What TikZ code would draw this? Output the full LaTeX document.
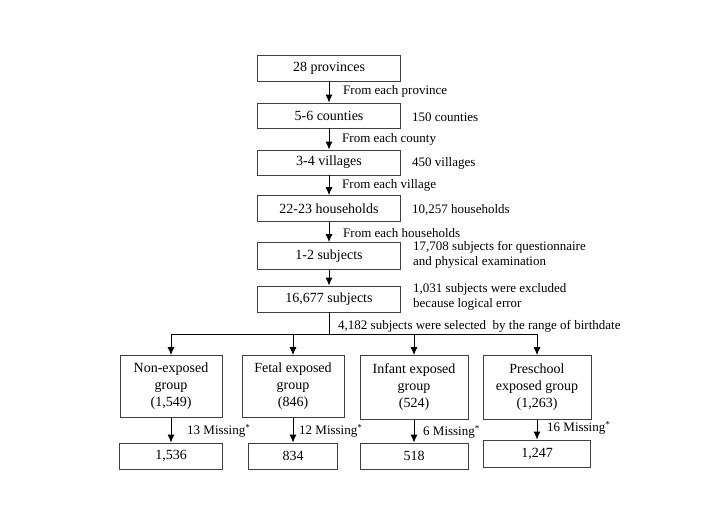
\documentclass[tikz,border=0pt]{standalone}
\usepackage{fontspec}
\setmainfont{Liberation Serif}
\usetikzlibrary{arrows.meta}

\begin{document}
\begin{tikzpicture}[x=1pt,y=-1pt,
    caja/.style={draw=black!75, line width=0.8pt, minimum width=143pt,
      minimum height=26pt, inner sep=0pt, align=center,
      font=\fontsize{14}{17}\selectfont},
    etiq/.style={anchor=west, inner sep=0pt, align=left,
      font=\fontsize{13}{14.5}\selectfont},
    flecha/.style={line width=0.9pt, -{Latex[length=8pt,width=7pt]}}]

    % marco de la figura
    \useasboundingbox (0,0) rectangle (711,529);

    % --- cajas del muestreo ---
    \node[caja] (prov) at (329,68.5) {28 provinces};
    \node[caja, minimum height=25pt] (cnty) at (329,115.5) {5-6 counties};
    \node[caja, minimum height=25pt] (vill) at (329,162.5) {3-4 villages};
    \node[caja] (hh) at (329,208.5) {22-23 households};
    \node[caja, minimum height=27pt] (subj) at (329,256) {1-2 subjects};
    \node[caja] (total) at (329,299) {16,677 subjects};

    % flechas entre cajas
    \draw[flecha] (prov) -- (cnty);
    \draw[flecha] (cnty) -- (vill);
    \draw[flecha] (vill) -- (hh);
    \draw[flecha] (hh) -- (subj);
    \draw[flecha] (subj) -- (total);

    % etiquetas de las flechas
    \node[etiq] (fprov) at (343,91) {From each province};
    \node[etiq] (fcnty) at (342,139) {From each county};
    \node[etiq] (fvill) at (342,185) {From each village};
    \node[etiq] (fhh) at (343,233) {From each households};

    % etiquetas a la derecha
    \node[etiq] (ncnty) at (412,117) {150 counties};
    \node[etiq] (nvill) at (412,163) {450 villages};
    \node[etiq] (nhh) at (412,210) {10,257 households};
    \node[etiq] (nsubj) at (413,255) {17,708 subjects for questionnaire\\and physical examination};
    \node[etiq] (ntotal) at (413,297) {1,031 subjects were excluded\\because logical error};

    % --- grupos ---
    \node[caja, minimum width=102pt, minimum height=62pt] (nonexp) at (171,386.5) {Non-exposed\\group\\(1,549)};
    \node[caja, minimum width=102pt, minimum height=62pt] (fetal) at (293,386.5) {Fetal exposed\\group\\(846)};
    \node[caja, minimum width=108pt, minimum height=64pt] (infant) at (414,387.5) {Infant exposed\\group\\(524)};
    \node[caja, minimum width=108pt, minimum height=64pt] (presch) at (537,387.5) {Preschool\\exposed group\\(1,263)};

    % reparto hacia los grupos
    \coordinate (split) at (total.south |- 0,334);
    \draw[line width=0.9pt] (total.south) -- (split);
    \draw[flecha] (split) -| (nonexp.north);
    \draw[flecha] (split) -| (fetal.north);
    \draw[flecha] (split) -| (infant.north);
    \draw[flecha] (split) -| (presch.north);
    \node[etiq] (nsplit) at (338,326) {4,182 subjects were selected~ by the range of birthdate};

    % --- resultados finales ---
    \node[caja, minimum width=103pt] (rnonexp) at (171,456) {1,536};
    \node[caja, minimum width=89pt] (rfetal) at (293,456) {834};
    \node[caja, minimum width=108pt] (rinfant) at (414,456) {518};
    \node[caja, minimum width=107pt, minimum height=27pt] (rpresch) at (537,453.5) {1,247};

    \draw[flecha] (nonexp) -- (rnonexp);
    \draw[flecha] (fetal) -- (rfetal);
    \draw[flecha] (infant) -- (rinfant);
    \draw[flecha] (presch) -- (rpresch);

    % perdidos
    \node[etiq] (mnonexp) at (187,431) {13 Missing\textsuperscript{*}};
    \node[etiq] (mfetal) at (299,431) {12 Missing\textsuperscript{*}};
    \node[etiq] (minfant) at (423,432) {6 Missing\textsuperscript{*}};
    \node[etiq] (mpresch) at (547,428) {16 Missing\textsuperscript{*}};

\end{tikzpicture}
\end{document}
